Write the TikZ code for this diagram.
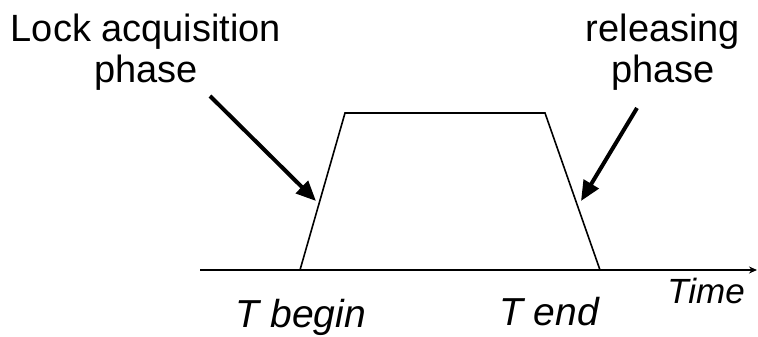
\documentclass[tikz,border=0pt]{standalone}
\usepackage{fontspec}
\setmainfont{Liberation Sans}
\usetikzlibrary{arrows.meta}
\begin{document}
\begin{tikzpicture}[x=1pt,y=-1pt,
  lbl/.style={font=\fontsize{38}{41}\selectfont, align=center, inner sep=0pt},
  ilbl/.style={font=\fontsize{39}{42}\selectfont\itshape, inner sep=0pt, anchor=base},
  tlbl/.style={font=\fontsize{35}{38}\selectfont\itshape, inner sep=0pt, anchor=base},
  pointer/.style={line width=4pt, -{Triangle[length=20pt,width=17pt]}},
  curve/.style={line width=1.6pt, line join=miter}]
\useasboundingbox (0,0) rectangle (758,337);
\node[lbl] (lockA) at (146,52) {Lock acquisition\\phase};
\node[lbl] (relA) at (663,52) {releasing\\phase};
\node[ilbl] (tb) at (301,327) {T begin};
\node[ilbl] (te) at (549,325) {T end};
\node[tlbl] (time) at (706,303) {Time};
\coordinate (a0) at (200,270);
\coordinate (a1) at (757,270);
\coordinate (p1) at (300,270);
\coordinate (p2) at (345,113);
\coordinate (p3) at (545,113);
\coordinate (p4) at (600,270);
\coordinate (l0) at (210,96);
\coordinate (l1) at (316,201);
\coordinate (r0) at (637,108);
\coordinate (r1) at (581,201);
\draw[line width=2pt, -{Stealth[length=8pt,width=7pt]}] (a0) -- (a1);
\draw[curve] (p1) -- (p2) -- (p3) -- (p4);
\draw[pointer] (l0) -- (l1);
\draw[pointer] (r0) -- (r1);
\end{tikzpicture}
\end{document}
